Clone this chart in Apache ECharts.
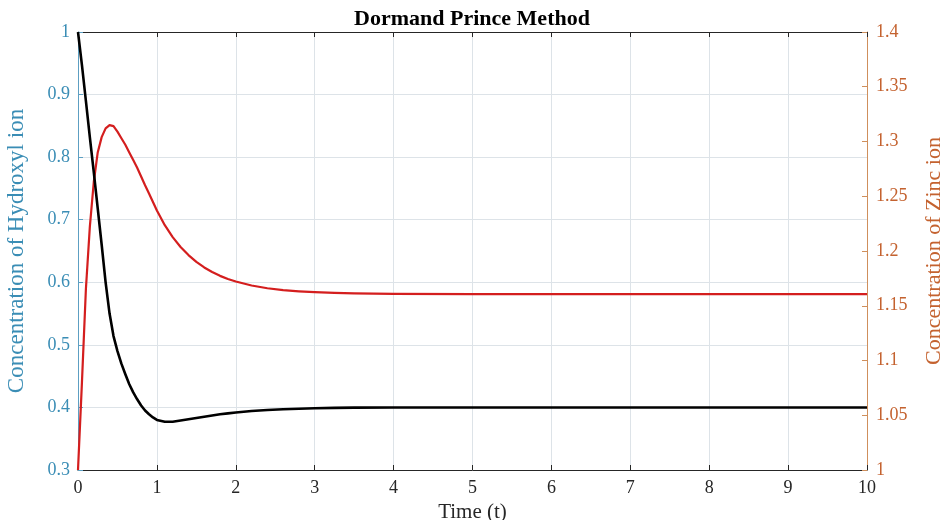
<!DOCTYPE html>
<html>
<head>
<meta charset="utf-8">
<script src="https://cdn.jsdelivr.net/npm/echarts@6/dist/echarts.min.js"></script>
<style>html,body{margin:0;padding:0;background:#fff;}#c{width:944px;height:520px;}</style>
</head>
<body>
<div id="c"></div>
<script>
// Time samples (t)
var time = [0, 0.05, 0.1, 0.15, 0.2, 0.25, 0.3, 0.35, 0.4, 0.45, 0.5, 0.55, 0.6, 0.65, 0.7, 0.75, 0.8, 0.85, 0.9, 0.95, 1.0, 1.1, 1.2, 1.3, 1.4, 1.5, 1.6, 1.7, 1.8, 1.9, 2.0, 2.2, 2.4, 2.6, 2.8, 3.0, 3.25, 3.5, 4, 5, 6, 7, 8, 9, 10];
// Concentration of Hydroxyl ion (left axis, black)
var hydroxyl = [1.0, 0.947, 0.89, 0.832, 0.776, 0.718, 0.66, 0.6, 0.55, 0.514, 0.49, 0.47, 0.453, 0.437, 0.424, 0.413, 0.403, 0.395, 0.389, 0.384, 0.38, 0.377, 0.377, 0.379, 0.381, 0.383, 0.385, 0.387, 0.389, 0.3905, 0.392, 0.3943, 0.396, 0.3972, 0.398, 0.3987, 0.3993, 0.3997, 0.4, 0.4, 0.4, 0.4, 0.4, 0.4, 0.4];
// Concentration of Zinc ion (right axis, red)
var zinc = [1.0, 1.08, 1.165, 1.222, 1.263, 1.29, 1.304, 1.312, 1.315, 1.314, 1.309, 1.303, 1.297, 1.29, 1.283, 1.276, 1.268, 1.26, 1.2525, 1.2447, 1.237, 1.2236, 1.2127, 1.2037, 1.1963, 1.1901, 1.185, 1.1808, 1.1773, 1.1744, 1.1721, 1.1685, 1.166, 1.1643, 1.1632, 1.1624, 1.1617, 1.1613, 1.1609, 1.1607, 1.1607, 1.1607, 1.1607, 1.1607, 1.1607];

var FONT = "'Liberation Serif', 'Times New Roman', serif";
var leftColor = '#3a8db5';
var rightColor = '#c4622f';
function fmt(v){ return String(parseFloat(v.toFixed(2))); }

var hydData = time.map(function(t,i){ return [t, hydroxyl[i]]; });
var znData = time.map(function(t,i){ return [t, zinc[i]]; });

var chart = echarts.init(document.getElementById('c'), null, {renderer:'canvas'});
chart.setOption({
  backgroundColor: '#fff',
  animation: false,
  title: {
    text: 'Dormand Prince Method',
    left: 'center',
    top: 3,
    textStyle: {fontFamily: FONT, fontSize: 22, fontWeight: 'bold', color: '#000'}
  },
  grid: {left: 78, right: 77, top: 32, bottom: 50, outerBoundsMode: 'none', containLabel: false},
  xAxis: [{
    type: 'value', min: 0, max: 10, interval: 1, position: 'bottom',
    name: 'Time (t)', nameLocation: 'middle', nameGap: 28,
    nameTextStyle: {fontFamily: FONT, fontSize: 21, color: '#262626'},
    axisLine: {show: true, onZero: false, lineStyle: {color: '#262626', width: 1}},
    axisTick: {show: true, inside: true, length: 5, lineStyle: {color: '#262626'}},
    axisLabel: {fontFamily: FONT, fontSize: 18, color: '#262626', margin: 9},
    splitLine: {show: true, lineStyle: {color: '#dde3e8', width: 1}}
  }, {
    type: 'value', min: 0, max: 10, interval: 1, position: 'top',
    axisLine: {show: true, onZero: false, lineStyle: {color: '#262626', width: 1}},
    axisTick: {show: true, inside: true, length: 5, lineStyle: {color: '#262626'}},
    axisLabel: {show: false},
    splitLine: {show: false}
  }],
  yAxis: [{
    type: 'value', min: 0.3, max: 1, interval: 0.1, position: 'left',
    name: 'Concentration of Hydroxyl ion', nameLocation: 'middle', nameGap: 50,
    nameTextStyle: {fontFamily: FONT, fontSize: 23, color: leftColor},
    axisLine: {show: true, onZero: false, lineStyle: {color: '#5d9fc2', width: 1}},
    axisTick: {show: true, inside: true, length: 5, lineStyle: {color: '#5d9fc2'}},
    axisLabel: {fontFamily: FONT, fontSize: 18, color: leftColor, margin: 8, formatter: fmt},
    splitLine: {show: true, lineStyle: {color: '#dde3e8', width: 1}}
  }, {
    type: 'value', min: 1, max: 1.4, interval: 0.05, position: 'right',
    name: 'Concentration of Zinc ion', nameLocation: 'middle', nameGap: 56,
    nameTextStyle: {fontFamily: FONT, fontSize: 22, color: rightColor},
    axisLine: {show: true, onZero: false, lineStyle: {color: '#cf8f5c', width: 1}},
    axisTick: {show: true, inside: true, length: 5, lineStyle: {color: '#cf8f5c'}},
    axisLabel: {fontFamily: FONT, fontSize: 18, color: rightColor, margin: 9, formatter: fmt},
    splitLine: {show: false}
  }],
  series: [{
    name: 'Zinc ion', type: 'line', xAxisIndex: 0, yAxisIndex: 1,
    data: znData, showSymbol: false, smooth: false,
    lineStyle: {color: '#d41e1e', width: 2.2, join: 'round'}, z: 2
  }, {
    name: 'Hydroxyl ion', type: 'line', xAxisIndex: 0, yAxisIndex: 0,
    data: hydData, showSymbol: false, smooth: false,
    lineStyle: {color: '#000000', width: 2.6, join: 'round'}, z: 3
  }]
});
</script>
</body>
</html>
